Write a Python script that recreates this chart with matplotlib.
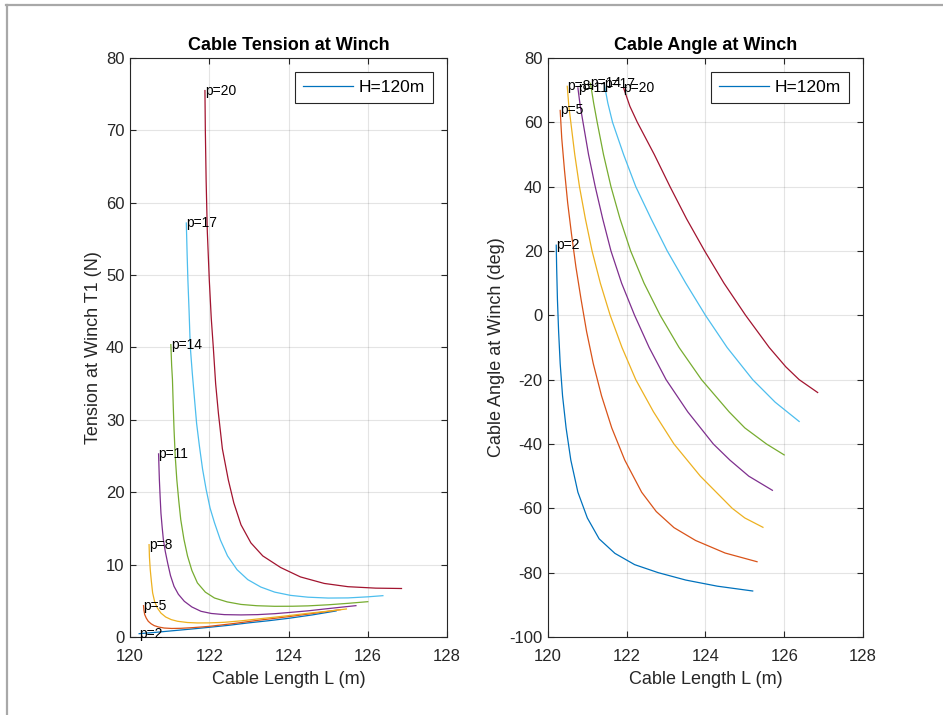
import matplotlib
matplotlib.use('Agg')
import matplotlib.pyplot as plt
from matplotlib.lines import Line2D

plt.rcParams['font.family'] = ['Liberation Sans', 'DejaVu Sans']
plt.rcParams['axes.unicode_minus'] = False

p_values = [2, 5, 8, 11, 14, 17, 20]
colors = ['#0072BD', '#D95319', '#EDB120', '#7E2F8E', '#77AC30', '#4DBEEE', '#A2142F']

# Tension at winch T1 (N) against cable length L (m)
tens_L_p2 = [120.23, 120.6, 121.11, 121.55, 122.0, 122.5, 122.97, 123.5, 124.0, 124.6, 125.2]
tens_T_p2 = [0.46, 0.62, 0.88, 1.1, 1.34, 1.62, 1.94, 2.25, 2.58, 3.05, 3.6]

tens_L_p5 = [120.34, 120.35, 120.37, 120.41, 120.46, 120.53, 120.61, 120.72, 120.86, 121.05,
             121.28, 121.6, 122.0, 122.6, 123.22, 123.65, 124.07, 124.7, 125.31]
tens_T_p5 = [4.33, 3.7, 3.1, 2.6, 2.17, 1.83, 1.57, 1.38, 1.24, 1.18,
             1.2, 1.3, 1.47, 1.85, 2.3, 2.58, 2.86, 3.32, 3.78]

tens_L_p8 = [120.48, 120.49, 120.51, 120.54, 120.57, 120.62, 120.69, 120.78, 120.9, 121.04, 121.2,
             121.45, 121.7, 122.0, 122.38, 122.8, 123.22, 123.65, 124.07, 124.5, 125.0, 125.46]
tens_T_p8 = [12.76, 11.0, 9.3, 7.6, 6.1, 4.9, 4.0, 3.3, 2.76, 2.4, 2.17,
             2.0, 1.94, 1.95, 2.03, 2.23, 2.49, 2.74, 3.0, 3.28, 3.57, 3.87]

tens_L_p11 = [120.72, 120.73, 120.74, 120.76, 120.78, 120.81, 120.84, 120.89, 120.95, 121.02, 121.11,
              121.22, 121.37, 121.56, 121.79, 122.05, 122.38, 122.8, 123.22, 123.65, 124.07, 124.5,
              124.91, 125.3, 125.7]
tens_T_p11 = [25.3, 23.5, 21.75, 19.3, 17.1, 15.2, 13.5, 11.8, 10.2, 8.5, 7.0,
              5.9, 4.93, 4.15, 3.55, 3.25, 3.09, 3.05, 3.09, 3.22, 3.41, 3.62,
              3.87, 4.1, 4.33]

tens_L_p14 = [121.03, 121.05, 121.07, 121.09, 121.11, 121.14, 121.18, 121.23, 121.28, 121.36, 121.45,
              121.56, 121.7, 121.9, 122.13, 122.45, 122.8, 123.2, 123.65, 124.1, 124.49, 125.0,
              125.5, 126.0]
tens_T_p14 = [40.4, 37.5, 35.6, 32.0, 28.7, 25.0, 21.75, 18.8, 16.2, 13.5, 11.2,
              9.2, 7.47, 6.2, 5.39, 4.85, 4.5, 4.32, 4.24, 4.25, 4.3, 4.45,
              4.65, 4.88]

tens_L_p17 = [121.42, 121.44, 121.46, 121.49, 121.52, 121.57, 121.62, 121.68, 121.75, 121.83, 121.92,
              122.02, 122.13, 122.28, 122.46, 122.7, 122.97, 123.3, 123.65, 124.05, 124.49, 125.0,
              125.5, 126.0, 126.38]
tens_T_p17 = [57.2, 53.0, 49.3, 45.0, 40.1, 36.5, 33.3, 29.5, 26.4, 23.2, 20.4,
              17.8, 15.8, 13.4, 11.2, 9.3, 7.93, 6.9, 6.2, 5.75, 5.5, 5.38,
              5.4, 5.55, 5.71]

tens_L_p20 = [121.89, 121.9, 121.92, 121.95, 122.0, 122.05, 122.1, 122.16, 122.23, 122.33, 122.48,
              122.62, 122.8, 123.05, 123.35, 123.8, 124.3, 124.9, 125.5, 126.2, 126.85]
tens_T_p20 = [75.5, 70.0, 63.1, 56.0, 49.3, 44.0, 40.1, 35.0, 30.9, 26.0, 21.7,
              18.5, 15.5, 13.0, 11.2, 9.6, 8.3, 7.4, 6.95, 6.75, 6.7]

# Cable angle at winch (deg) against cable length L (m)
ang_L_p2 = [120.21, 120.22, 120.24, 120.27, 120.31, 120.37, 120.46, 120.58, 120.76, 121.0,
            121.3, 121.7, 122.2, 122.8, 123.5, 124.3, 125.2]
ang_A_p2 = [21.8, 15.0, 5.0, -5.0, -15.0, -25.0, -35.0, -45.0, -55.0, -63.0,
            -69.5, -74.0, -77.5, -80.0, -82.3, -84.2, -85.7]

ang_L_p5 = [120.31, 120.35, 120.42, 120.5, 120.6, 120.71, 120.84, 120.98, 121.15, 121.36,
            121.62, 121.95, 122.38, 122.75, 123.2, 123.75, 124.5, 125.31]
ang_A_p5 = [63.7, 55.0, 45.0, 35.0, 25.0, 15.0, 5.0, -5.0, -15.0, -25.0,
            -35.0, -45.0, -55.0, -61.0, -66.0, -70.0, -73.9, -76.6]

ang_L_p8 = [120.49, 120.53, 120.58, 120.68, 120.8, 120.95, 121.12, 121.33, 121.58, 121.88,
            122.23, 122.68, 123.2, 123.87, 124.68, 125.0, 125.46]
ang_A_p8 = [71.2, 65.0, 60.0, 50.0, 40.0, 30.0, 20.0, 10.0, 0.0, -10.0,
            -20.0, -30.0, -40.0, -50.0, -60.0, -63.0, -65.9]

ang_L_p11 = [120.76, 120.82, 120.89, 121.03, 121.2, 121.39, 121.6, 121.87, 122.2, 122.57,
             123.0, 123.55, 124.2, 124.62, 125.1, 125.7]
ang_A_p11 = [70.7, 65.0, 60.0, 50.0, 40.0, 30.0, 20.0, 10.0, 0.0, -10.0,
             -20.0, -30.0, -40.0, -45.0, -50.0, -54.4]

ang_L_p14 = [121.08, 121.16, 121.25, 121.41, 121.6, 121.83, 122.1, 122.44, 122.85, 123.33,
             123.9, 124.6, 125.0, 125.55, 126.0]
ang_A_p14 = [72.1, 66.0, 60.0, 50.0, 40.0, 30.0, 20.0, 10.0, 0.0, -10.0,
             -20.0, -30.0, -35.0, -40.0, -43.4]

ang_L_p17 = [121.43, 121.52, 121.64, 121.92, 122.23, 122.62, 123.03, 123.5, 124.0, 124.55,
             125.2, 125.77, 126.38]
ang_A_p17 = [71.9, 66.0, 60.0, 50.0, 40.0, 30.0, 20.0, 10.0, 0.0, -10.0,
             -20.0, -27.0, -33.0]

ang_L_p20 = [121.92, 122.08, 122.27, 122.7, 123.1, 123.52, 123.98, 124.47, 125.02, 125.62,
             126.04, 126.38, 126.85]
ang_A_p20 = [70.7, 65.0, 60.0, 50.0, 40.0, 30.0, 20.0, 10.0, 0.0, -10.0,
             -16.0, -20.0, -24.0]

tension_series = [(tens_L_p2, tens_T_p2), (tens_L_p5, tens_T_p5), (tens_L_p8, tens_T_p8),
                  (tens_L_p11, tens_T_p11), (tens_L_p14, tens_T_p14), (tens_L_p17, tens_T_p17),
                  (tens_L_p20, tens_T_p20)]
angle_series = [(ang_L_p2, ang_A_p2), (ang_L_p5, ang_A_p5), (ang_L_p8, ang_A_p8),
                (ang_L_p11, ang_A_p11), (ang_L_p14, ang_A_p14), (ang_L_p17, ang_A_p17),
                (ang_L_p20, ang_A_p20)]

x_ticks = [120, 122, 124, 126, 128]
tension_ticks = [0, 10, 20, 30, 40, 50, 60, 70, 80]
angle_ticks = [-100, -80, -60, -40, -20, 0, 20, 40, 60, 80]

axis_color = '#262626'


def style_axes(ax):
    ax.set_facecolor('white')
    for spine in ax.spines.values():
        spine.set_color(axis_color)
        spine.set_linewidth(0.8)
    ax.tick_params(direction='in', length=4, width=0.8, colors=axis_color,
                   labelsize=12, top=True, right=True, pad=4)
    ax.tick_params(axis='x', pad=9)
    ax.grid(True, color='#262626', alpha=0.12, linewidth=0.8)
    ax.set_axisbelow(True)


def draw_panel(ax, series, yticks, ylim, title, ylabel):
    for p, (xs, ys), c in zip(p_values, series, colors):
        label = 'H=120m' if p == p_values[0] else None
        ax.plot(xs, ys, color=c, linewidth=0.9, label=label)
        ax.text(xs[0], ys[0], 'p=%d' % p, fontsize=10, color='black',
                ha='left', va='center')
    ax.set_xlim(120, 128)
    ax.set_ylim(*ylim)
    ax.set_xticks(x_ticks)
    ax.set_yticks(yticks)
    ax.set_title(title, fontsize=13, fontweight='bold', color='black', pad=6)
    ax.set_xlabel('Cable Length L (m)', fontsize=13, color=axis_color, labelpad=5)
    ax.set_ylabel(ylabel, fontsize=13, color=axis_color, labelpad=3)
    style_axes(ax)
    leg = ax.legend(loc='upper right', fontsize=12.5, fancybox=False, framealpha=1,
                    handlelength=2.9, handletextpad=0.35, borderaxespad=0.8,
                    borderpad=0.45)
    leg.get_frame().set_edgecolor(axis_color)
    leg.get_frame().set_linewidth(0.8)


fig = plt.figure(figsize=(9.43, 7.15), dpi=100)
fig.patch.set_facecolor('white')

ax1 = fig.add_axes([0.1379, 0.1091, 0.3362, 0.8098])
ax2 = fig.add_axes([0.5811, 0.1091, 0.3340, 0.8098])

draw_panel(ax1, tension_series, tension_ticks, (0, 80),
           'Cable Tension at Winch', 'Tension at Winch T1 (N)')
draw_panel(ax2, angle_series, angle_ticks, (-100, 80),
           'Cable Angle at Winch', 'Cable Angle at Winch (deg)')

# window frame on the top and left edges
fig.add_artist(Line2D([0.0065, 1.0], [0.993, 0.993], color='#a8a8a8', linewidth=1.6,
                      transform=fig.transFigure))
fig.add_artist(Line2D([0.0075, 0.0075], [0.0, 0.993], color='#a8a8a8', linewidth=1.6,
                      transform=fig.transFigure))

fig.savefig('out.png', dpi=100)
